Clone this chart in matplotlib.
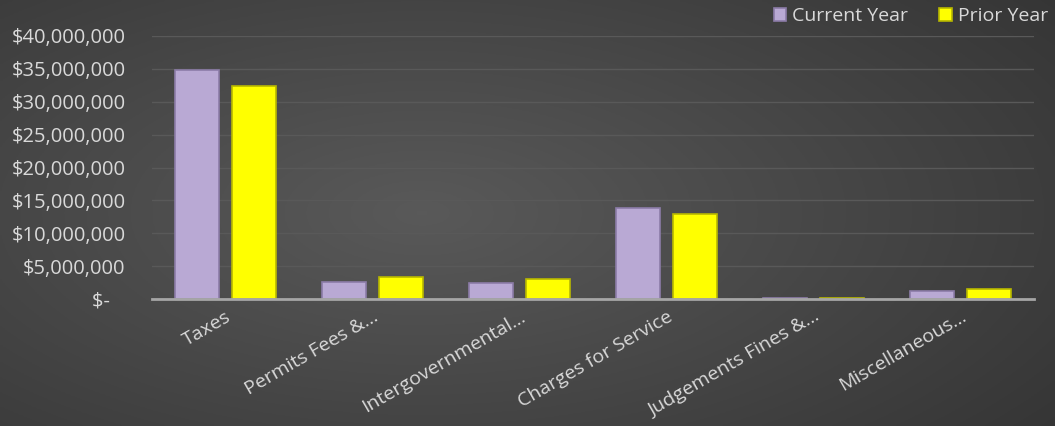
import numpy as np
import matplotlib
matplotlib.use("Agg")
import matplotlib.pyplot as plt
from matplotlib.ticker import FuncFormatter

categories = ["Taxes", "Permits Fees &...", "Intergovernmental...", "Charges for Service",
              "Judgements Fines &...", "Miscellaneous..."]
current_year = [34.8e6, 2.6e6, 2.4e6, 13.8e6, 0.2e6, 1.2e6]
prior_year = [32.4e6, 3.35e6, 3.0e6, 12.9e6, 0.15e6, 1.5e6]
yticks = [0, 5e6, 10e6, 15e6, 20e6, 25e6, 30e6, 35e6, 40e6]

plt.rcParams['font.family'] = ['Open Sans', 'DejaVu Sans']
txt = '#d9d9d9'

fig = plt.figure(figsize=(10.55, 4.26), dpi=100)

# background gradient
bg = fig.add_axes([0, 0, 1, 1], zorder=-10)
yy, xx = np.mgrid[0:1:200j, 0:1:400j]
r = np.sqrt(((xx - 0.4) / 0.8) ** 2 + ((yy - 0.5) / 0.9) ** 2)
val = 0.35 - 0.15 * r
bg.imshow(np.dstack([val, val, val]).clip(0, 1), aspect='auto', extent=[0, 1, 0, 1])
bg.axis('off')

ax = fig.add_axes([152 / 1055, 1 - 299 / 426, (1034 - 152) / 1055, (299 - 36) / 426])
ax.set_facecolor('none')
x = np.arange(len(categories))
w = 0.3
gap = 0.045
ax.bar(x - w / 2 - gap, current_year, w, color='#b9a9d4', edgecolor='#8c7ca8', linewidth=1.2,
       label='Current Year', zorder=3)
ax.bar(x + w / 2 + gap, prior_year, w, color='#ffff00', edgecolor='#b8b800', linewidth=1.2,
       label='Prior Year', zorder=3)

ax.set_xlim(-0.5, len(categories) - 0.5)
ax.set_ylim(0, 40e6)
ax.set_yticks(yticks)
ax.yaxis.set_major_formatter(FuncFormatter(lambda v, p: '$-   ' if v == 0 else f'${v:,.0f}'))
ax.grid(axis='y', color='#595959', linewidth=1, zorder=0)
for s in ['top', 'right', 'left']:
    ax.spines[s].set_visible(False)
ax.spines['bottom'].set_color('#a6a6a6')
ax.spines['bottom'].set_linewidth(2)
ax.spines['bottom'].set_zorder(4)
ax.tick_params(axis='y', length=0, colors=txt, labelsize=14.5, pad=19)
ax.tick_params(axis='x', length=0, colors=txt, labelsize=14, pad=6)
ax.set_xticks(x)
ax.set_xticklabels(categories, rotation=30, ha='right', rotation_mode='anchor')

leg = fig.legend(loc='upper right', bbox_to_anchor=(1.01, 1.025), ncol=2, frameon=False,
                 fontsize=14, labelcolor=txt, handlelength=0.65, handleheight=0.65,
                 handletextpad=0.3, columnspacing=1.6)

fig.savefig('out.png', dpi=100)
